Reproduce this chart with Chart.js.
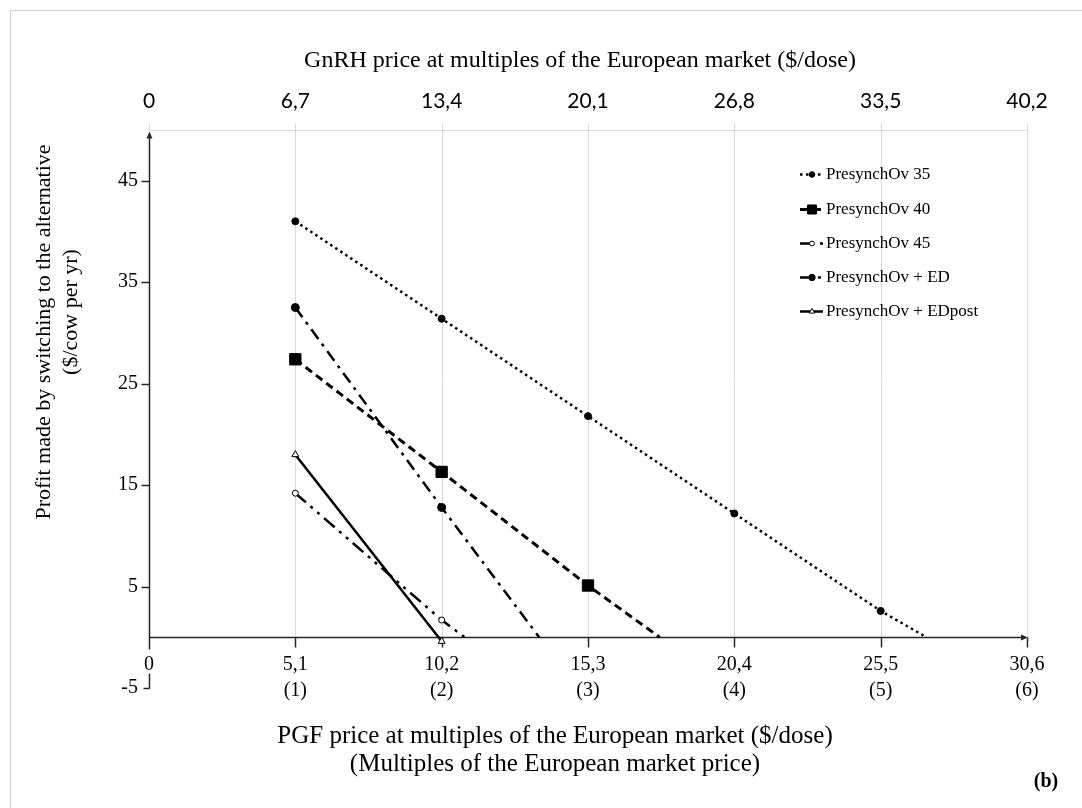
<!DOCTYPE html>
<html>
<head>
<meta charset="utf-8">
<script src="https://cdn.jsdelivr.net/npm/chart.js@4/dist/chart.umd.min.js"></script>
<style>
  html, body { margin: 0; padding: 0; background: #fff; }
  #wrap { width: 1082px; height: 808px; }
</style>
</head>
<body>
<div id="wrap"><canvas id="c" width="1082" height="808"></canvas></div>
<script>
// Axis ticks and labels
const pgfTicks = [0, 5.1, 10.2, 15.3, 20.4, 25.5, 30.6];
const pgfLabels = ['0', '5,1', '10,2', '15,3', '20,4', '25,5', '30,6'];
const multipleLabels = ['', '(1)', '(2)', '(3)', '(4)', '(5)', '(6)'];
const gnrhLabels = ['0', '6,7', '13,4', '20,1', '26,8', '33,5', '40,2'];
const profitTicks = [-5, 5, 15, 25, 35, 45];

// PGF price ($/dose) at 1x..5x the European market
const pgfPrice = [5.1, 10.2, 15.3, 20.4, 25.5];

// Profit ($/cow per yr) for each protocol
const presynch35 = [41.0, 31.4, 21.8, 12.2, 2.6];
const presynch40 = [27.4, 16.3, 5.1];
const presynch45 = [14.2, 1.7];
const presynchED = [32.5, 12.8];
const presynchEDpost = [18.0, -0.4];

// PGF price at which the profit reaches zero
const breakEven35 = 27.1;
const breakEven40 = 17.8;
const breakEven45 = 11.0;
const breakEvenED = 13.6;

const SERIF = '"Liberation Serif", "Times New Roman", serif';
const SANS = 'Lato, "Open Sans", sans-serif';

function points(values, zeroAt) {
  const pts = values.map((v, i) => ({ x: pgfPrice[i], y: v }));
  if (zeroAt !== undefined) pts.push({ x: zeroAt, y: 0 });
  return pts;
}
function radii(values, r, zeroAt) {
  const a = values.map(() => r);
  if (zeroAt !== undefined) a.push(0);
  return a;
}

const datasets = [
  {
    label: 'PresynchOv 35',
    data: points(presynch35, breakEven35),
    borderColor: '#000', borderWidth: 2.5, borderDash: [2.5, 3.5],
    pointStyle: 'circle', pointRadius: radii(presynch35, 3.5, breakEven35),
    pointBackgroundColor: '#000', pointBorderColor: '#000', pointBorderWidth: 1
  },
  {
    label: 'PresynchOv 40',
    data: points(presynch40, breakEven40),
    borderColor: '#000', borderWidth: 3, borderDash: [8, 5],
    pointStyle: 'rect', pointRadius: radii(presynch40, 8, breakEven40),
    pointBackgroundColor: '#000', pointBorderColor: '#000', pointBorderWidth: 1
  },
  {
    label: 'PresynchOv 45',
    data: points(presynch45, breakEven45),
    borderColor: '#000', borderWidth: 2.5, borderDash: [14, 6, 3, 6, 3, 6],
    pointStyle: 'circle', pointRadius: radii(presynch45, 3, breakEven45),
    pointBackgroundColor: '#fff', pointBorderColor: '#000', pointBorderWidth: 1
  },
  {
    label: 'PresynchOv + ED',
    data: points(presynchED, breakEvenED),
    borderColor: '#000', borderWidth: 2.5, borderDash: [12, 6, 3, 6],
    pointStyle: 'circle', pointRadius: radii(presynchED, 4, breakEvenED),
    pointBackgroundColor: '#000', pointBorderColor: '#000', pointBorderWidth: 1
  },
  {
    label: 'PresynchOv + EDpost',
    data: points(presynchEDpost),
    borderColor: '#000', borderWidth: 2.5, borderDash: [],
    pointStyle: 'triangle', pointRadius: radii(presynchEDpost, 4),
    pointBackgroundColor: '#fff', pointBorderColor: '#000', pointBorderWidth: 1
  }
];
datasets.forEach(d => { d.showLine = true; d.fill = false; d.tension = 0; });

const fixedTicks = list => scale => { scale.ticks = list.map(v => ({ value: v })); };

// Frame, grid, axes with arrows, titles and legend
const decorations = {
  id: 'decorations',
  beforeDraw(chart) {
    const ctx = chart.ctx;
    ctx.save();
    ctx.fillStyle = '#fff';
    ctx.fillRect(0, 0, chart.width, chart.height);
    ctx.strokeStyle = '#d0d0d0';
    ctx.lineWidth = 1;
    ctx.strokeRect(10.5, 10.5, chart.width + 20, chart.height + 20);
    ctx.restore();
  },
  beforeDatasetsDraw(chart) {
    const ctx = chart.ctx;
    const xs = chart.scales.x, ys = chart.scales.y;
    const area = chart.chartArea;
    const y0 = Math.round(ys.getPixelForValue(0)) + 0.5;
    const top = Math.round(area.top) + 0.5;
    const xl = xs.getPixelForValue(0), xr = xs.getPixelForValue(30.6);
    ctx.save();
    // vertical grid lines and the secondary (top) axis
    ctx.strokeStyle = '#d9d9d9';
    ctx.lineWidth = 1;
    ctx.beginPath();
    pgfTicks.forEach((v, i) => {
      const x = Math.round(xs.getPixelForValue(v)) + 0.5;
      ctx.moveTo(x, top - 7);
      ctx.lineTo(x, i === 0 ? top : y0);
    });
    ctx.moveTo(xl, top);
    ctx.lineTo(xr, top);
    ctx.stroke();

    // primary horizontal axis at zero
    ctx.strokeStyle = '#262626';
    ctx.fillStyle = '#262626';
    ctx.lineWidth = 1.5;
    ctx.beginPath();
    ctx.moveTo(xl, y0);
    ctx.lineTo(xr - 2, y0);
    pgfTicks.forEach(v => {
      const x = Math.round(xs.getPixelForValue(v)) + 0.5;
      ctx.moveTo(x, y0);
      ctx.lineTo(x, y0 + 10);
    });
    // vertical axis
    const xa = Math.round(xl) + 0.5;
    ctx.moveTo(xa, top + 4);
    ctx.lineTo(xa, y0 + 12);
    const yMinus = Math.round(ys.getPixelForValue(-5)) + 0.5;
    ctx.moveTo(xa, yMinus - 15);
    ctx.lineTo(xa, yMinus);
    profitTicks.forEach(v => {
      const y = Math.round(ys.getPixelForValue(v)) + 0.5;
      ctx.moveTo(xa - (v < 0 ? 6 : 8), y);
      ctx.lineTo(xa, y);
    });
    ctx.stroke();
    // arrow heads
    ctx.beginPath();
    ctx.moveTo(xa, top + 1);
    ctx.lineTo(xa - 3, top + 8);
    ctx.lineTo(xa + 3, top + 8);
    ctx.closePath();
    ctx.moveTo(xr + 1, y0);
    ctx.lineTo(xr - 6, y0 - 3);
    ctx.lineTo(xr - 6, y0 + 3);
    ctx.closePath();
    ctx.fill();
    ctx.restore();
  },
  afterDraw(chart) {
    const ctx = chart.ctx;
    ctx.save();
    ctx.fillStyle = '#000';
    ctx.textBaseline = 'middle';
    ctx.textAlign = 'center';

    // axis titles
    ctx.font = '24px ' + SERIF;
    ctx.fillText('GnRH price at multiples of the European market ($/dose)', 580, 61);
    ctx.font = '25px ' + SERIF;
    ctx.fillText('PGF price at multiples of the European market ($/dose)', 555, 736);
    ctx.fillText('(Multiples of the European market price)', 555, 764);

    ctx.font = '22px ' + SERIF;
    ctx.save();
    ctx.translate(44, 332);
    ctx.rotate(-Math.PI / 2);
    ctx.fillText('Profit made by switching to the alternative', 0, 0);
    ctx.restore();
    ctx.save();
    ctx.translate(71, 312);
    ctx.rotate(-Math.PI / 2);
    ctx.fillText('($/cow per yr)', 0, 0);
    ctx.restore();

    ctx.font = 'bold 20px ' + SERIF;
    ctx.fillText('(b)', 1046, 782);

    // legend
    const rows = [174, 209, 243, 277, 311];
    ctx.font = '17px ' + SERIF;
    ctx.textAlign = 'left';
    chart.data.datasets.forEach((ds, i) => {
      const y = rows[i] + 0.5;
      ctx.save();
      ctx.strokeStyle = ds.borderColor;
      ctx.lineWidth = ds.borderWidth;
      ctx.setLineDash(ds.borderDash || []);
      ctx.beginPath();
      ctx.moveTo(800, y);
      ctx.lineTo(823, y);
      ctx.stroke();
      ctx.setLineDash([]);
      ctx.fillStyle = ds.pointBackgroundColor;
      ctx.strokeStyle = ds.pointBorderColor;
      ctx.lineWidth = ds.pointBorderWidth;
      Chart.helpers.drawPoint(ctx, {
        pointStyle: ds.pointStyle,
        radius: ds.pointRadius[0] * 0.8,
        rotation: 0,
        borderWidth: ds.pointBorderWidth
      }, 812, y);
      ctx.restore();
      ctx.fillStyle = '#000';
      ctx.fillText(ds.label, 826, y);
    });
    ctx.restore();
  }
};

new Chart(document.getElementById('c'), {
  type: 'scatter',
  data: { datasets },
  options: {
    responsive: false,
    animation: false,
    layout: { padding: { left: 0, top: 0, right: 55, bottom: 120 } },
    plugins: { legend: { display: false }, tooltip: { enabled: false } },
    scales: {
      x: {
        type: 'linear',
        position: { y: 0 },
        min: 0, max: 30.6,
        afterBuildTicks: fixedTicks(pgfTicks),
        grid: { display: false },
        border: { display: false },
        ticks: {
          autoSkip: false, maxRotation: 0, padding: 6,
          color: '#000',
          font: { family: SERIF, size: 20, lineHeight: 1.3 },
          callback: (v, i) => multipleLabels[i] ? [pgfLabels[i], multipleLabels[i]] : pgfLabels[i]
        }
      },
      x2: {
        type: 'linear',
        position: 'top',
        min: 0, max: 30.6,
        afterBuildTicks: fixedTicks(pgfTicks),
        afterFit: s => { s.height = 130; },
        grid: { display: false },
        border: { display: false },
        ticks: {
          autoSkip: false, maxRotation: 0, padding: 8,
          color: '#000',
          font: { family: SANS, size: 21 },
          callback: (v, i) => gnrhLabels[i]
        }
      },
      y: {
        type: 'linear',
        position: 'left',
        min: -5, max: 50,
        afterBuildTicks: fixedTicks(profitTicks),
        afterFit: s => { s.width = 149; },
        grid: { display: false },
        border: { display: false },
        ticks: {
          padding: 3,
          color: '#000',
          font: { family: SERIF, size: 20 },
          callback: v => String(v)
        }
      }
    }
  },
  plugins: [decorations]
});
</script>
</body>
</html>
